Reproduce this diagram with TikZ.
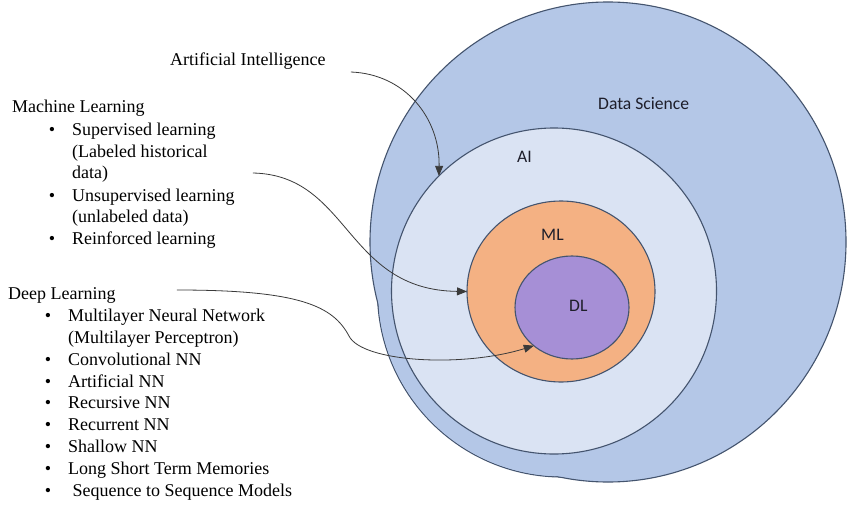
\documentclass[tikz,border=0pt]{standalone}
\usepackage{fontspec}
\setmainfont{Liberation Serif}
\newfontfamily\calib{Carlito}
\usetikzlibrary{shapes.geometric,arrows.meta,calc}
\definecolor{dsfill}{HTML}{B4C7E7}
\definecolor{aifill}{HTML}{DAE3F3}
\definecolor{mlfill}{HTML}{F4B183}
\definecolor{dlfill}{HTML}{A68FD6}
\definecolor{edgec}{HTML}{44546E}
\definecolor{arrowc}{HTML}{3A3A3A}
\definecolor{lblc}{HTML}{1E1E2A}
\begin{document}
\begin{tikzpicture}[x=1pt,y=-1pt,
  ring/.style={ellipse, draw=edgec, line width=1.1pt, inner sep=0pt, outer sep=0pt},
  dsedge/.style={fill=dsfill, draw=edgec, line width=1.1pt},
  lbl/.style={font=\calib\fontsize{17.6}{20}\selectfont, text=lblc, anchor=base west, inner sep=0pt},
  txt/.style={font=\fontsize{18}{21.8}\selectfont, anchor=base west, inner sep=0pt},
  bul/.style={font=\fontsize{18}{21.8}\selectfont, anchor=base, inner sep=0pt},
  conn/.style={draw=arrowc, line width=0.8pt, -{Triangle[length=10pt,width=8pt]}}]
\useasboundingbox (0,0) rectangle (850,508);
\fill[white] (0,0) rectangle (850,508);

% Data Science outer shape: union of an ellipse and a bulge circle
\draw[dsedge] (562.5,292) circle (185pt);
\draw[dsedge] (608,242) ellipse [x radius=238pt, y radius=240pt];
\fill[dsfill] (562.5,292) circle (184.3pt);

\node[ring, fill=aifill, minimum width=325pt, minimum height=326pt] (ai) at (554,291) {};
\node[ring, fill=mlfill, minimum width=188pt, minimum height=181pt] (ml) at (561,291.5) {};
\node[ring, fill=dlfill, minimum width=114pt, minimum height=103pt] (dl) at (572,307.5) {};

\node[lbl] (dslbl) at (598,110) {Data Science};
\node[lbl] (ailbl) at (517,162) {AI};
\node[lbl] (mllbl) at (541,240) {ML};
\node[lbl] (dllbl) at (569,311) {DL};

% Left texts
\node[txt] (aitext) at (170,66) {Artificial Intelligence};

\node[txt] (mltext) at (12,113) {Machine Learning};
\node[bul] (mb1) at (52,135) {\textbullet};
\node[txt] (m1) at (72,135) {Supervised learning};
\node[txt] (m2) at (72,157) {(Labeled historical};
\node[txt] (m3) at (72,178) {data)};
\node[bul] (mb2) at (52,201) {\textbullet};
\node[txt] (m4) at (72,201) {Unsupervised learning};
\node[txt] (m5) at (72,222) {(unlabeled data)};
\node[bul] (mb3) at (52,244) {\textbullet};
\node[txt] (m6) at (72,244) {Reinforced learning};

\node[txt] (dltext) at (8,299) {Deep Learning};
\node[bul] (db1) at (48,321) {\textbullet};
\node[txt] (d1) at (68,321) {Multilayer Neural Network};
\node[txt] (d2) at (68,343) {(Multilayer Perceptron)};
\node[bul] (db2) at (48,365) {\textbullet};
\node[txt] (d3) at (68,365) {Convolutional NN};
\node[bul] (db3) at (48,387) {\textbullet};
\node[txt] (d4) at (68,387) {Artificial NN};
\node[bul] (db4) at (48,408) {\textbullet};
\node[txt] (d5) at (68,408) {Recursive NN};
\node[bul] (db5) at (48,430) {\textbullet};
\node[txt] (d6) at (68,430) {Recurrent NN};
\node[bul] (db6) at (48,452) {\textbullet};
\node[txt] (d7) at (68,452) {Shallow NN};
\node[bul] (db7) at (48,474) {\textbullet};
\node[txt] (d8) at (68,474) {Long Short Term Memories};
\node[bul] (db8) at (48,496) {\textbullet};
\node[txt] (d9) at (72.5,496) {Sequence to Sequence Models};

% Connectors
\coordinate (aistart) at ($(aitext.base east)+(25,6)$);
\coordinate (mlstart) at ($(m2.base east)+(45,16)$);
\coordinate (dlstart) at ($(dltext.base east)+(61,-9)$);
\coordinate (dlbend) at (349,336);

\draw[conn] (aistart) .. controls (405,74) and (440,118) .. (ai.135);
\draw[conn] (mlstart) .. controls (350,175) and (345,290) .. (ml.west);
\draw[conn] (dlstart) .. controls (300,290) and (333,306) .. (dlbend)
  .. controls (362,362) and (462,368) .. (dl.225);
\end{tikzpicture}
\end{document}
